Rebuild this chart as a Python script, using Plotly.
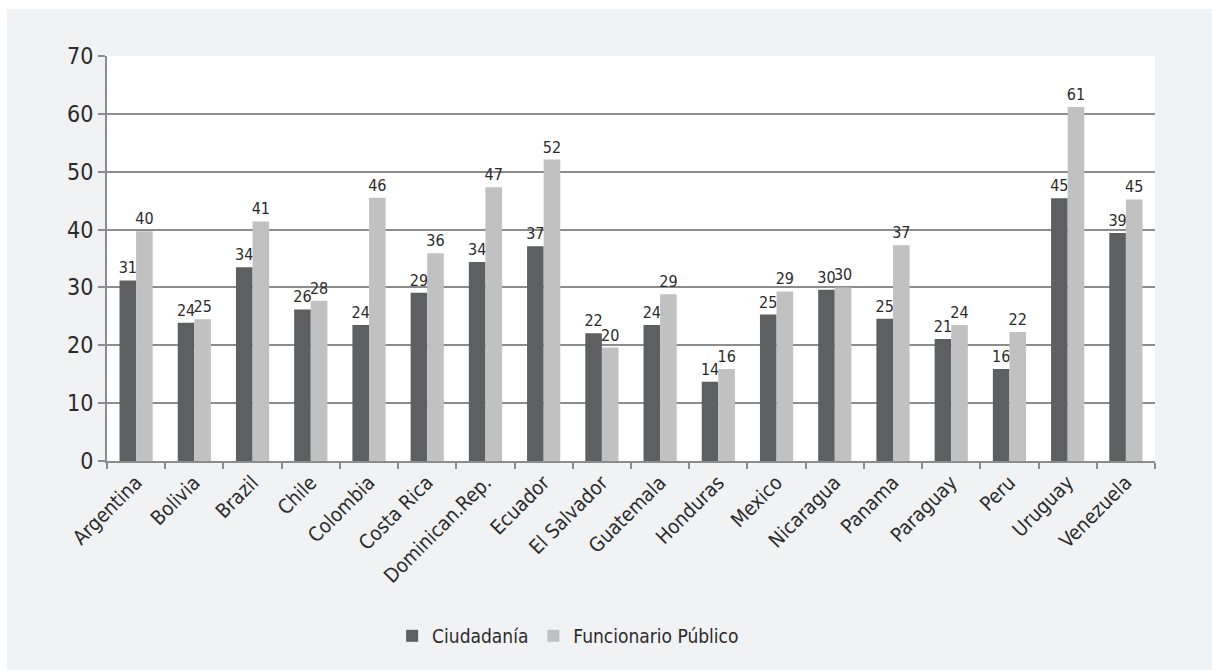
import plotly.graph_objects as go

countries = ["Argentina", "Bolivia", "Brazil", "Chile", "Colombia", "Costa Rica",
             "Dominican.Rep.", "Ecuador", "El Salvador", "Guatemala", "Honduras",
             "Mexico", "Nicaragua", "Panama", "Paraguay", "Peru", "Uruguay", "Venezuela"]
ciudadania = [31.2, 23.9, 33.5, 26.2, 23.5, 29.1, 34.4, 37.1, 22.1, 23.5, 13.7,
              25.3, 29.6, 24.6, 21.1, 15.9, 45.4, 39.4]
funcionario = [39.7, 24.5, 41.4, 27.7, 45.5, 35.9, 47.3, 52.1, 19.6, 28.8, 15.9,
               29.3, 30.0, 37.3, 23.5, 22.3, 61.2, 45.2]
y_ticks = [0, 10, 20, 30, 40, 50, 60, 70]

FONT = "Liberation Sans Narrow, DejaVu Sans Condensed, Roboto Condensed, Liberation Sans, Arial Narrow, sans-serif"
TXT = "#2b2b2b"
GRID = "#8c8c8c"

fig = go.Figure()
fig.add_trace(go.Bar(
    x=countries, y=ciudadania, name="Ciudadanía",
    marker=dict(color="#5e5f61", line=dict(width=0)),
    texttemplate="%{y:.0f}", textposition="outside", constraintext="none",
    textfont=dict(size=16, color=TXT, family=FONT), cliponaxis=False,
))
fig.add_trace(go.Bar(
    x=countries, y=funcionario, name="Funcionario Público",
    marker=dict(color="#c1c1c1", line=dict(width=0)),
    texttemplate="%{y:.0f}", textposition="outside", constraintext="none",
    textfont=dict(size=16, color=TXT, family=FONT), cliponaxis=False,
))

fig.update_layout(
    width=1212, height=670,
    margin=dict(l=107, r=57, t=56, b=209),
    paper_bgcolor="#f1f2f4", plot_bgcolor="#ffffff",
    barmode="group", bargap=0.43, bargroupgap=0.0,
    font=dict(family=FONT, color=TXT),
    showlegend=True,
    legend=dict(orientation="h", x=0.44, xanchor="center", y=-0.432, yanchor="middle",
                font=dict(size=19, color=TXT, family=FONT), bgcolor="rgba(0,0,0,0)",
                itemwidth=30, traceorder="normal"),
    shapes=[
        dict(type="rect", xref="paper", yref="paper", x0=-0.2, x1=-0.0955, y0=-1, y1=2,
             fillcolor="#ffffff", line=dict(width=0), layer="below"),
        dict(type="rect", xref="paper", yref="paper", x0=-0.2, x1=1.2, y0=1.116, y1=2,
             fillcolor="#ffffff", line=dict(width=0), layer="below"),
    ],
)
fig.update_xaxes(
    type="category", tickangle=-45, tickson="boundaries",
    ticks="outside", ticklen=6, tickcolor=GRID, tickwidth=1.5,
    showline=True, linecolor=GRID, linewidth=2,
    showgrid=False, tickfont=dict(size=20, color=TXT, family=FONT),
)
fig.update_yaxes(
    range=[0, 70], tickvals=y_ticks,
    ticks="outside", ticklen=7, tickcolor=GRID, tickwidth=1.5,
    showline=True, linecolor=GRID, linewidth=2,
    showgrid=True, gridcolor=GRID, gridwidth=2, zeroline=False,
    tickfont=dict(size=23, color=TXT, family=FONT),
)

fig.write_html("out.html")
